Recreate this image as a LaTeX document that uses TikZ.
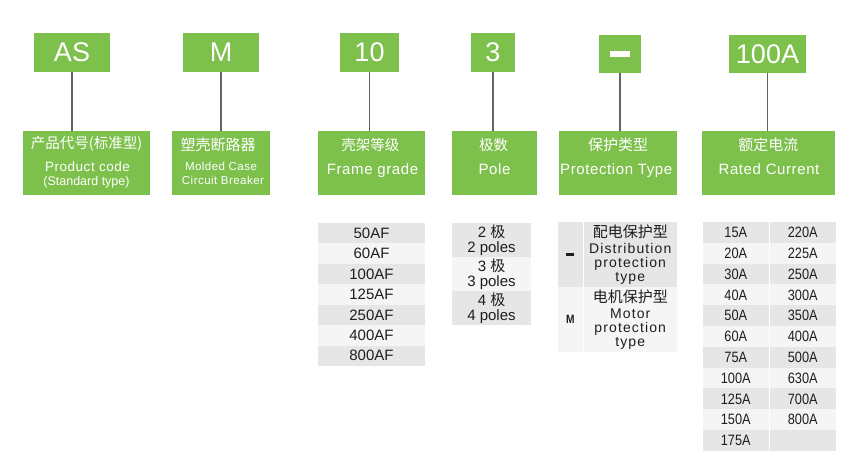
\documentclass[tikz,border=0pt]{standalone}
\usepackage{fontspec}
\setmainfont{Liberation Sans}
\newfontfamily\spaced[LetterSpace=4]{Liberation Sans}
\newfontfamily\wider[LetterSpace=8]{Liberation Sans}
\newfontfamily\narrow[FakeStretch=0.85]{Liberation Sans}
\newfontfamily\cjk{Noto Sans CJK SC}
\newcommand\sz[1]{\fontsize{#1}{#1}\selectfont}
\definecolor{grn}{RGB}{125,192,76}
\definecolor{rowA}{RGB}{230,230,230}
\definecolor{rowB}{RGB}{245,245,245}
\definecolor{linegray}{RGB}{100,100,100}
\definecolor{ink}{RGB}{30,30,30}

\begin{document}
\begin{tikzpicture}[x=1pt,y=-1pt,
    tag/.style={fill=grn,text=white,inner sep=0,minimum height=39pt,font=\sz{27}},
    lab/.style={fill=grn,inner sep=0,minimum height=64pt},
    txt/.style={text=white,inner sep=0},
    link/.style={draw=linegray,line width=1.4pt},
    cell/.style={inner sep=0,text=ink,font=\sz{15}}]
    \useasboundingbox (0,0) rectangle (867,476);

    % code boxes
    \node[tag,minimum width=76pt] (as) at (72,52.5) {AS};
    \node[tag,minimum width=76pt] (m) at (221,52.5) {M};
    \node[tag,minimum width=59pt] (ten) at (369.5,52.5) {10};
    \node[tag,minimum width=44pt] (three) at (493,52.5) {3};
    \node[tag,minimum width=42pt,minimum height=38pt] (dash) at (620,54) {\rule{20pt}{6pt}};
    \node[tag,minimum width=77pt,minimum height=38pt] (amp) at (767.5,54) {100A};

    % meaning boxes
    \node[lab,minimum width=127pt] (code) at (86.5,163) {};
    \node[lab,minimum width=98pt] (mcc) at (221,163) {};
    \node[lab,minimum width=107pt] (frame) at (371.5,163) {};
    \node[lab,minimum width=85pt] (pole) at (494.5,163) {};
    \node[lab,minimum width=118pt] (prot) at (618,163) {};
    \node[lab,minimum width=133pt] (rated) at (768.5,163) {};

    \draw[link] (as.south) -- (as.south |- code.north);
    \draw[link] (m.south) -- (m.south |- mcc.north);
    \draw[link] (ten.south) -- (ten.south |- frame.north);
    \draw[link] (three.south) -- (three.south |- pole.north);
    \draw[link] (dash.south) -- (dash.south |- prot.north);
    \draw[link] (amp.south) -- (amp.south |- rated.north);

    \node[txt,font=\cjk\sz{14.5}] (code1) at (86.5,144) {产品代号(标准型)};
    \node[txt,font=\spaced\sz{13.5},anchor=base] (code2) at (87.5,171) {Product code};
    \node[txt,font=\sz{12.5},anchor=base] (code3) at (86.5,185) {(Standard type)};
    \node[txt,font=\cjk\sz{15}] (mcc1) at (218,144.5) {塑壳断路器};
    \node[txt,font=\spaced\sz{11.5},anchor=base] (mcc2) at (221,170.7) {Molded Case};
    \node[txt,font=\spaced\sz{11.5},anchor=base] (mcc3) at (223,184.3) {Circuit Breaker};
    \node[txt,font=\cjk\sz{14.5}] (frame1) at (370.3,145) {壳架等级};
    \node[txt,font=\spaced\sz{15},anchor=base] (frame2) at (372.5,175) {Frame grade};
    \node[txt,font=\cjk\sz{14.5}] (pole1) at (493.5,145) {极数};
    \node[txt,font=\spaced\sz{15},anchor=base] (pole2) at (494.5,175) {Pole};
    \node[txt,font=\cjk\sz{15}] (prot1) at (618,145) {保护类型};
    \node[txt,font=\spaced\sz{15},anchor=base] (prot2) at (616.2,175) {Protection Type};
    \node[txt,font=\cjk\sz{15}] (rated1) at (768.3,144.5) {额定电流};
    \node[txt,font=\spaced\sz{15},anchor=base] (rated2) at (769,175) {Rated Current};

    % frame grades
    \foreach \v [count=\i] in {50AF,60AF,100AF,125AF,250AF,400AF,800AF}{
        \ifodd\i\def\rc{rowA}\else\def\rc{rowB}\fi
        \node[cell,fill=\rc,minimum width=107pt,minimum height=20.5pt] (fa\i) at (371.5,{223+20.43*(\i-0.5)}) {\v};
    }

    % poles
    \foreach \n [count=\i] in {2,3,4}{
        \ifodd\i\def\rc{rowA}\else\def\rc{rowB}\fi
        \node[cell,fill=\rc,align=center,minimum width=79pt,minimum height=34.2pt] (po\i) at (491.5,{223+34*(\i-0.5)}) {\n\ {\cjk 极}\\\n\ poles};
    }

    % protection types
    \node[cell,fill=rowA,minimum width=24.5pt,minimum height=65pt] (pl1) at (570.25,254.5) {\rule{8pt}{3.5pt}};
    \node[cell,fill=rowA,minimum width=93.5pt,minimum height=65pt,align=center,font=\wider\fontsize{14}{14.2}\selectfont] (pr1) at (630.25,254.5)
        {{\cjk\sz{15}配电保护型}\\[2pt]Distribution\\protection\\type};
    \node[cell,fill=rowB,minimum width=24.5pt,minimum height=65pt,font=\narrow\bfseries\sz{12}] (pl2) at (570.25,319.5) {\raisebox{-3pt}{M}};
    \node[cell,fill=rowB,minimum width=93.5pt,minimum height=65pt,align=center,font=\wider\fontsize{14}{14.2}\selectfont] (pr2) at (630.25,319.5)
        {{\cjk\sz{15}电机保护型}\\[2pt]Motor\\protection\\type};

    % rated currents
    \foreach \a/\b [count=\i] in {15A/220A,20A/225A,30A/250A,40A/300A,50A/350A,60A/400A,75A/500A,100A/630A,125A/700A,150A/800A,175A/{}}{
        \ifodd\i\def\rc{rowA}\else\def\rc{rowB}\fi
        \node[cell,font=\narrow\sz{15},fill=\rc,minimum width=65.5pt,minimum height=21pt] (ca\i) at (735.75,{222+20.82*(\i-0.5)}) {\a};
        \node[cell,font=\narrow\sz{15},fill=\rc,minimum width=66.5pt,minimum height=21pt] (cb\i) at (802.75,{222+20.82*(\i-0.5)}) {\b};
    }
\end{tikzpicture}
\end{document}
